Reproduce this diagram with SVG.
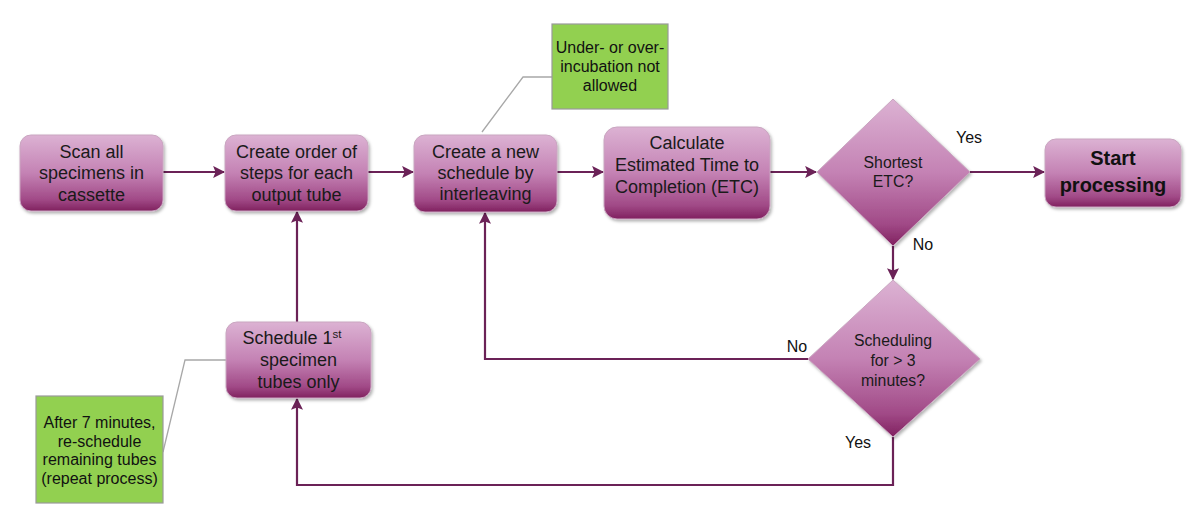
<svg xmlns="http://www.w3.org/2000/svg" width="1200" height="528" viewBox="0 0 1200 528">
<defs>
<linearGradient id="g" x1="0" y1="0" x2="0" y2="1">
<stop offset="0" stop-color="#dcb2d3"/>
<stop offset="0.5" stop-color="#c482b4"/>
<stop offset="0.85" stop-color="#a14a87"/>
<stop offset="1" stop-color="#80205f"/>
</linearGradient>
<filter id="sh" x="-10%" y="-10%" width="125%" height="130%">
<feDropShadow dx="1.5" dy="2" stdDeviation="1.5" flood-color="#000" flood-opacity="0.3"/>
</filter>
<marker id="ar" viewBox="0 0 10 10" refX="9" refY="5" markerWidth="5.5" markerHeight="5.5" orient="auto" markerUnits="strokeWidth">
<path d="M0,0 L10,5 L0,10 L2,5 z" fill="#6b2257"/>
</marker>
<style>
.box{fill:url(#g);stroke:#c9a6c0;stroke-width:1;filter:url(#sh)}
.note{fill:#92d050;stroke:#9a9a9a;stroke-width:1.2}
.t{font-family:"Liberation Sans",Arial,sans-serif;font-size:18px;fill:#1a1a1a;text-anchor:middle}
.tb{font-family:"Liberation Sans",Arial,sans-serif;font-size:20px;font-weight:bold;fill:#111;text-anchor:middle}
.td{font-family:"Liberation Sans",Arial,sans-serif;font-size:15.8px;fill:#1a1a1a;text-anchor:middle}
.tn{font-family:"Liberation Sans",Arial,sans-serif;font-size:16px;fill:#111;text-anchor:middle}
.lbl{font-family:"Liberation Sans",Arial,sans-serif;font-size:16px;fill:#111;text-anchor:middle}
.c{fill:none;stroke:#6b2257;stroke-width:2.2}
.lead{fill:none;stroke:#a8a8a8;stroke-width:1.3}
</style>
</defs>
<rect width="1200" height="528" fill="#ffffff"/>

<g id="connectors">
<line class="c" x1="163" y1="172" x2="224" y2="172" marker-end="url(#ar)"/>
<line class="c" x1="368" y1="172" x2="413" y2="172" marker-end="url(#ar)"/>
<line class="c" x1="557" y1="172" x2="603" y2="172" marker-end="url(#ar)"/>
<line class="c" x1="770" y1="172" x2="816" y2="172" marker-end="url(#ar)"/>
<line class="c" x1="970" y1="172" x2="1044" y2="172" marker-end="url(#ar)"/>
<line class="c" x1="893" y1="246" x2="893" y2="279" marker-end="url(#ar)"/>
<polyline class="c" points="808,359 485,359 485,213" marker-end="url(#ar)"/>
<polyline class="c" points="893,437 893,485 297,485 297,399" marker-end="url(#ar)"/>
<line class="c" x1="297" y1="322" x2="297" y2="212" marker-end="url(#ar)"/>
<polyline class="lead" points="482,132 523,77 552,77"/>
<polyline class="lead" points="163,452 185,360 226,360"/>
<text class="lbl" x="969" y="143">Yes</text>
<text class="lbl" x="923" y="250">No</text>
<text class="lbl" x="797" y="352">No</text>
<text class="lbl" x="858" y="448">Yes</text>
</g>

<g id="scan">
<rect class="box" x="20" y="135" width="143" height="76" rx="11"/>
<text class="t" x="91.5" y="158">Scan all</text>
<text class="t" x="91.5" y="179">specimens in</text>
<text class="t" x="91.5" y="201">cassette</text>
</g>

<g id="order">
<rect class="box" x="225" y="135" width="143" height="76" rx="11"/>
<text class="t" x="296.5" y="158">Create order of</text>
<text class="t" x="296.5" y="179">steps for each</text>
<text class="t" x="296.5" y="201">output tube</text>
</g>

<g id="newschedule">
<rect class="box" x="414" y="135" width="143" height="77" rx="11"/>
<text class="t" x="485.5" y="158">Create a new</text>
<text class="t" x="485.5" y="179">schedule by</text>
<text class="t" x="485.5" y="200">interleaving</text>
</g>

<g id="etc">
<rect class="box" x="604" y="127" width="166" height="92" rx="13"/>
<text class="t" x="687" y="149">Calculate</text>
<text class="t" x="687" y="171">Estimated Time to</text>
<text class="t" x="687" y="193">Completion (ETC)</text>
</g>

<g id="shortest">
<polygon class="box" points="893,99 970,172 893,246 817,172"/>
<text class="td" x="893" y="168">Shortest</text>
<text class="td" x="893" y="187">ETC?</text>
</g>

<g id="start">
<rect class="box" x="1045" y="139" width="136" height="68" rx="11"/>
<text class="tb" x="1113" y="165">Start</text>
<text class="tb" x="1113" y="192">processing</text>
</g>

<g id="scheduling">
<polygon class="box" points="893,280 980,359 893,437 808,359"/>
<text class="td" x="893" y="346">Scheduling</text>
<text class="td" x="893" y="366">for &gt; 3</text>
<text class="td" x="893" y="386">minutes?</text>
</g>

<g id="first">
<rect class="box" x="226" y="322" width="145" height="76" rx="11"/>
<text class="t" x="292" y="344">Schedule 1<tspan font-size="11.5" dy="-6">st</tspan></text>
<text class="t" x="298.5" y="366">specimen</text>
<text class="t" x="298.5" y="388">tubes only</text>
</g>

<g id="note1">
<rect class="note" x="552" y="24" width="116" height="85"/>
<text class="tn" x="610" y="53">Under- or over-</text>
<text class="tn" x="610" y="72">incubation not</text>
<text class="tn" x="610" y="91">allowed</text>
</g>

<g id="note2">
<rect class="note" x="36" y="396" width="127" height="107"/>
<text class="tn" x="99.5" y="428">After 7 minutes,</text>
<text class="tn" x="99.5" y="447">re-schedule</text>
<text class="tn" x="99.5" y="465">remaining tubes</text>
<text class="tn" x="99.5" y="484">(repeat process)</text>
</g>
</svg>
